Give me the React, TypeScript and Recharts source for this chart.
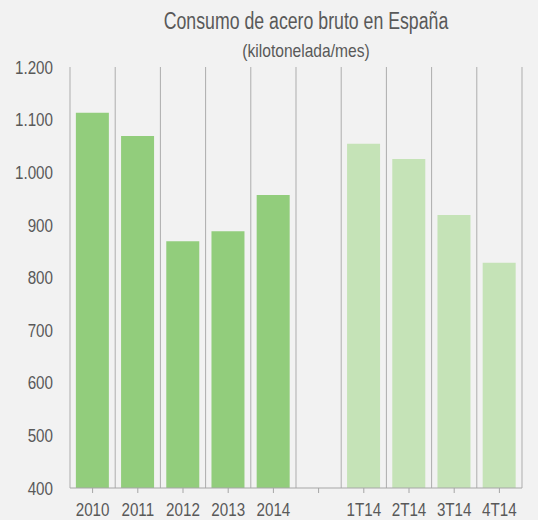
import { BarChart, Bar, XAxis, YAxis, CartesianGrid, Cell } from "recharts";

const categories = ["2010", "2011", "2012", "2013", "2014", "", "1T14", "2T14", "3T14", "4T14"];
const consumo = [1113, 1069, 869, 888, 957, null, 1054, 1025, 919, 828];
const yTicks = [400, 500, 600, 700, 800, 900, 1000, 1100, 1200];

const data = categories.map((name, i) => ({ name, value: consumo[i] }));

// no narrow font installed, so squeeze Liberation Sans horizontally
const FONT = '"Liberation Sans", Arial, sans-serif';
const SQUEEZE = 0.8;
const TEXT = "#595959";

const fmt = (v: number) => {
  const s = String(v);
  return s.length > 3 ? s.slice(0, s.length - 3) + "." + s.slice(-3) : s;
};

// labels sit at a fixed baseline under the axis line
const XTick = ({ x, payload }: any) => (
  <g transform={`translate(${x},516) scale(${SQUEEZE},1)`}>
    <text textAnchor="middle" fill={TEXT} fontSize={19} fontFamily={FONT}>
      {payload.value}
    </text>
  </g>
);

const YTick = ({ x, y, payload }: any) => (
  <g transform={`translate(${x},${y}) scale(${SQUEEZE},1)`}>
    <text textAnchor="end" dy="0.35em" fill={TEXT} fontSize={19} fontFamily={FONT}>
      {fmt(payload.value)}
    </text>
  </g>
);

const titleStyle = {
  position: "absolute" as const,
  left: 0,
  width: 612,
  textAlign: "center" as const,
  color: TEXT,
  lineHeight: 1,
  whiteSpace: "nowrap" as const,
};

export default function App() {
  return (
    <div style={{ position: "absolute", top: 0, left: 0, width: 538, height: 520, background: "#f2f2f2", fontFamily: FONT, overflow: "hidden" }}>
      <div style={{ ...titleStyle, top: 10, fontSize: 23, transform: "scaleX(0.77)" }}>
        Consumo de acero bruto en España
      </div>
      <div style={{ ...titleStyle, top: 41, fontSize: 19, transform: "scaleX(0.82)" }}>
        (kilotonelada/mes)
      </div>
      <BarChart
        width={538}
        height={520}
        data={data}
        margin={{ top: 67, right: 16, bottom: 0, left: 0 }}
        barCategoryGap="13%"
      >
        <CartesianGrid
          horizontal={false}
          stroke="#adadad"
          verticalCoordinatesGenerator={({ offset }: any) =>
            categories
              .map((_, i) => offset.left + (i * offset.width) / categories.length)
              .concat(offset.left + offset.width)
          }
        />
        <XAxis
          dataKey="name"
          interval={0}
          height={32}
          tickSize={5}
          tickMargin={9}
          stroke="#a6a6a6"
          tick={<XTick />}
        />
        <YAxis
          width={70}
          domain={[400, 1200]}
          ticks={yTicks}
          axisLine={false}
          tickLine={false}
          tickSize={0}
          tickMargin={17}
          tick={<YTick />}
        />
        <Bar dataKey="value" isAnimationActive={false}>
          {data.map((d, i) => (
            <Cell key={i} fill={i < 5 ? "#92cd7c" : "#c5e3b7"} />
          ))}
        </Bar>
      </BarChart>
    </div>
  );
}
